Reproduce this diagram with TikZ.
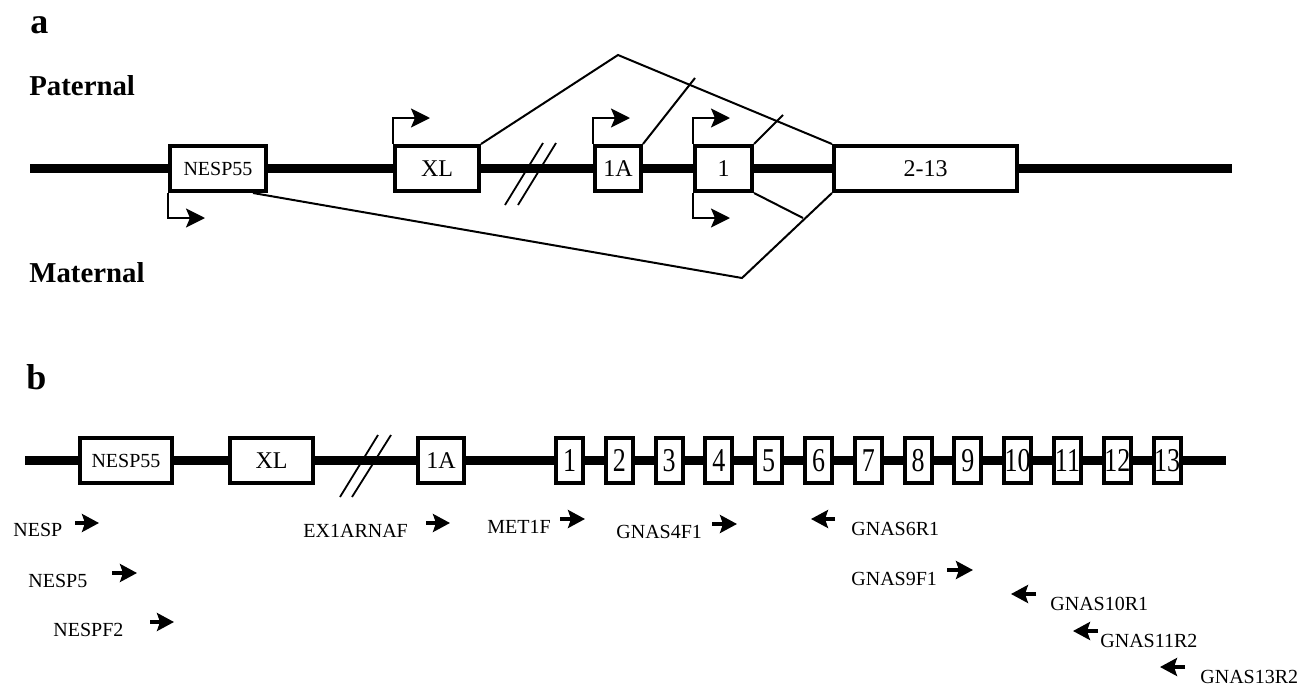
\documentclass[tikz,border=0pt]{standalone}
\usepackage{fontspec}
\setmainfont{Liberation Serif}
\usepackage{graphicx}
\usetikzlibrary{arrows.meta}
\newcommand{\exNo}[1]{\scalebox{1}[1.28]{#1}}

\begin{document}
\begin{tikzpicture}[x=0.5pt,y=-0.5pt,
  gen/.style={line width=4.5pt},
  ekzon/.style={draw,line width=2pt,fill=white,inner sep=0pt,minimum height=22.5pt,font=\fontsize{12}{12}\selectfont},
  kucukYazi/.style={font=\fontsize{10}{12}\selectfont},
  promotor/.style={line width=1pt,-{Stealth[length=9.5pt,width=9.5pt,inset=2pt]}},
  primer/.style={line width=1.6pt,-{Stealth[length=8.5pt,width=9pt,inset=1.5pt]}},
  ucBirlesme/.style={line width=1pt},
  kesik/.style={line width=0.9pt},
  etiket/.style={anchor=base west,inner sep=0pt,font=\fontsize{10}{12}\selectfont},
  baslik/.style={anchor=base west,inner sep=0pt,font=\fontsize{14.4}{16}\selectfont\bfseries},
  harf/.style={anchor=base west,inner sep=0pt,font=\fontsize{18}{18}\selectfont\bfseries}]
\useasboundingbox (0,0) rectangle (1303,686);
% a
\node[harf] (harfA) at (30,33) {a};
\node[baslik] (paternal) at (29,95) {Paternal};
\node[baslik] (maternal) at (29,282) {Maternal};
\coordinate (genBasA) at (30,168);
\coordinate (genSonA) at (1232,168);
\draw[gen] (genBasA) -- (genSonA);
\draw[kesik] (505,205) -- (543,143);
\draw[kesik] (518,205) -- (556,143);
\node[ekzon,kucukYazi,minimum width=48pt] (nespA) at (218,168.5) {NESP55};
\node[ekzon,minimum width=42pt] (xlA) at (437,168.5) {XL};
\node[ekzon,minimum width=23pt] (birAA) at (618,168.5) {1A};
\node[ekzon,minimum width=28.5pt] (birA) at (723.5,168.5) {1};
\node[ekzon,minimum width=91.5pt] (ikiA) at (925.5,168.5) {2-13};
% promotorler
\draw[promotor] (nespA.south west) -- ++(0,25) -- ++(37,0);
\draw[promotor] (xlA.north west) -- ++(0,-26) -- ++(37,0);
\draw[promotor] (birAA.north west) -- ++(0,-26) -- ++(37,0);
\draw[promotor] (birA.north west) -- ++(0,-26) -- ++(37,0);
\draw[promotor] (birA.south west) -- ++(0,25) -- ++(37,0);
% birlesmeler
\coordinate (tepe) at (618,55);
\coordinate (dip) at (742,278);
\coordinate (ucBirAA) at (695,78);
\coordinate (ucBirUst) at (783,115);
\coordinate (ucBirAlt) at (803,218);
\draw[ucBirlesme] (xlA.north east) -- (tepe) -- (ikiA.north west);
\draw[ucBirlesme] (birAA.north east) -- (ucBirAA);
\draw[ucBirlesme] (birA.north east) -- (ucBirUst);
\draw[ucBirlesme] ([xshift=-7.5pt]nespA.south east) -- (dip) -- (ikiA.south west);
\draw[ucBirlesme] (birA.south east) -- (ucBirAlt);
% b
\node[harf] (harfB) at (26,389) {b};
\coordinate (genBasB) at (25,460);
\coordinate (genSonB) at (1226,460);
\draw[gen] (genBasB) -- (genSonB);
\draw[kesik] (340,497) -- (378,435);
\draw[kesik] (352,497) -- (391,435);
\node[ekzon,kucukYazi,minimum width=46pt] (nespB) at (126,460.5) {NESP55};
\node[ekzon,minimum width=41.5pt] (xlB) at (271.5,460.5) {XL};
\node[ekzon,minimum width=23pt] (birAB) at (441,460.5) {1A};
\foreach \i in {1,...,13}
  \node[ekzon,minimum width=13.5pt,font=\fontsize{13}{13}\selectfont] (ekzon\i) at ({569.5+49.8*(\i-1)},460.5) {\exNo{\i}};
% primerler
\node[etiket] (nesp) at (13,536) {NESP};
\draw[primer] (75,523) -- (99,523);
\node[etiket] (nespBes) at (28,587) {NESP5};
\draw[primer] (112,573) -- (137,573);
\node[etiket] (nespfIki) at (53,636) {NESPF2};
\draw[primer] (150,622) -- (174,622);
\node[etiket] (exBir) at (303,537) {EX1ARNAF};
\draw[primer] (426,523) -- (450,523);
\node[etiket] (metBir) at (487,533) {MET1F};
\draw[primer] (560,519) -- (585,519);
\node[etiket] (gnasDort) at (616,538) {GNAS4F1};
\draw[primer] (712,524) -- (737,524);
\node[etiket] (gnasAlti) at (851,535) {GNAS6R1};
\draw[primer] (835,519) -- (811,519);
\node[etiket] (gnasDokuz) at (851,585) {GNAS9F1};
\draw[primer] (947,570) -- (973,570);
\node[etiket] (gnasOn) at (1050,610) {GNAS10R1};
\draw[primer] (1036,594) -- (1011,594);
\node[etiket] (gnasOnBir) at (1100,647) {GNAS11R2};
\draw[primer] (1098,631) -- (1073,631);
\node[etiket] (gnasOnUc) at (1200,683) {GNAS13R2};
\draw[primer] (1185,667) -- (1160,667);
\end{tikzpicture}
\end{document}
